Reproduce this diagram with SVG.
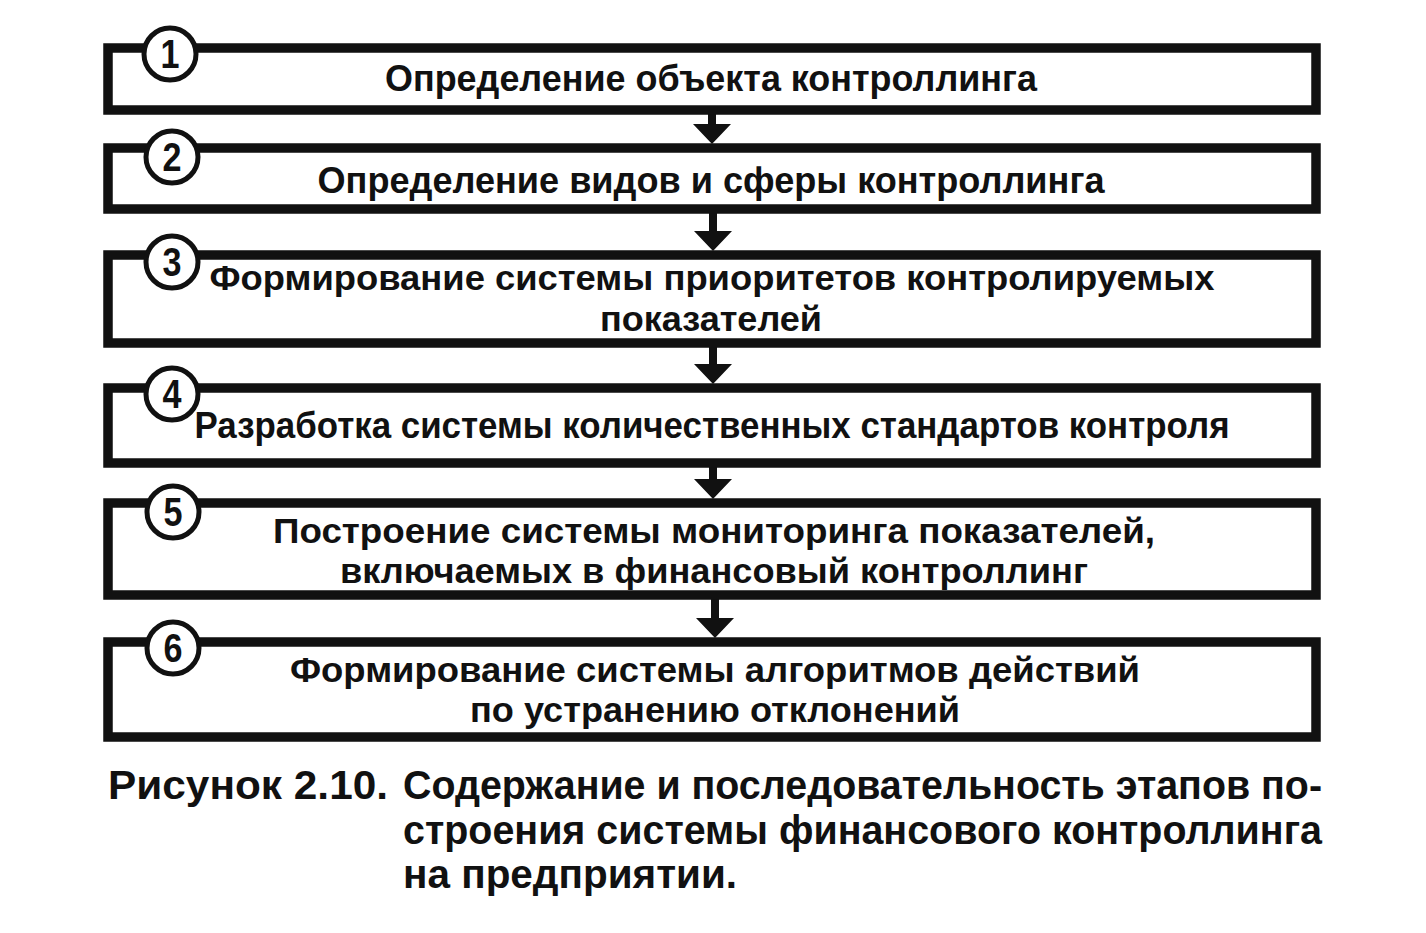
<svg xmlns="http://www.w3.org/2000/svg" width="1426" height="933" viewBox="0 0 1426 933">
<defs>
<style>
.box{fill:#fff;stroke:#111;stroke-width:9.5}
.num{fill:#fff;stroke:#111;stroke-width:5}
.nt{font-family:"Liberation Sans Narrow","Liberation Sans",Arial,sans-serif;font-weight:bold;font-size:40px;fill:#111;text-anchor:middle}
.t{font-family:"Liberation Sans Narrow","Liberation Sans",Arial,sans-serif;font-weight:bold;font-size:37px;fill:#111;text-anchor:middle}
.t2{font-family:"Liberation Sans Narrow","Liberation Sans",Arial,sans-serif;font-weight:bold;font-size:35px;fill:#111;text-anchor:middle}
.cap{font-family:"Liberation Sans Narrow","Liberation Sans",Arial,sans-serif;font-weight:bold;font-size:40px;fill:#111}
.arr{fill:#111}
</style>
</defs>
<rect width="1426" height="933" fill="#fff"/>
<g id="connectors">
<path class="arr" d="M708,110 H716 V124 H731 L712,144 L693,124 H708 Z"/>
<path class="arr" d="M709,209 H717 V231 H732 L713,251 L694,231 H709 Z"/>
<path class="arr" d="M709,343 H717 V364 H732 L713,384 L694,364 H709 Z"/>
<path class="arr" d="M709,463 H717 V479 H732 L713,499 L694,479 H709 Z"/>
<path class="arr" d="M711,595 H719 V618 H734 L715,638 L696,618 H711 Z"/>
</g>
<g id="node1">
<rect class="box" x="108" y="48" width="1208" height="62"/>
<circle class="num" cx="170" cy="54" r="26"/>
<text class="nt" x="170" y="68" textLength="19" lengthAdjust="spacingAndGlyphs">1</text>
<text class="t" x="711" y="91" textLength="652" lengthAdjust="spacingAndGlyphs">Определение объекта контроллинга</text>
</g>
<g id="node2">
<rect class="box" x="108" y="148" width="1208" height="61"/>
<circle class="num" cx="172" cy="157" r="26"/>
<text class="nt" x="172" y="171" textLength="19" lengthAdjust="spacingAndGlyphs">2</text>
<text class="t" x="711" y="193" textLength="787" lengthAdjust="spacingAndGlyphs">Определение видов и сферы контроллинга</text>
</g>
<g id="node3">
<rect class="box" x="108" y="255" width="1208" height="88"/>
<circle class="num" cx="172" cy="262" r="26"/>
<text class="nt" x="172" y="276" textLength="19" lengthAdjust="spacingAndGlyphs">3</text>
<text class="t2" x="712" y="290" textLength="1005" lengthAdjust="spacingAndGlyphs">Формирование системы приоритетов контролируемых</text>
<text class="t2" x="711" y="331" textLength="222" lengthAdjust="spacingAndGlyphs">показателей</text>
</g>
<g id="node4">
<rect class="box" x="108" y="388" width="1208" height="75"/>
<circle class="num" cx="172" cy="394" r="26"/>
<text class="nt" x="172" y="408" textLength="19" lengthAdjust="spacingAndGlyphs">4</text>
<text class="t" x="712" y="438" textLength="1035" lengthAdjust="spacingAndGlyphs">Разработка системы количественных стандартов контроля</text>
</g>
<g id="node5">
<rect class="box" x="108" y="503" width="1208" height="92"/>
<circle class="num" cx="173" cy="512" r="26"/>
<text class="nt" x="173" y="526" textLength="19" lengthAdjust="spacingAndGlyphs">5</text>
<text class="t2" x="714" y="543" textLength="882" lengthAdjust="spacingAndGlyphs">Построение системы мониторинга показателей,</text>
<text class="t2" x="714" y="583" textLength="748" lengthAdjust="spacingAndGlyphs">включаемых в финансовый контроллинг</text>
</g>
<g id="node6">
<rect class="box" x="108" y="642" width="1208" height="95"/>
<circle class="num" cx="173" cy="648" r="26"/>
<text class="nt" x="173" y="662" textLength="19" lengthAdjust="spacingAndGlyphs">6</text>
<text class="t2" x="715" y="682" textLength="850" lengthAdjust="spacingAndGlyphs">Формирование системы алгоритмов действий</text>
<text class="t2" x="715" y="722" textLength="490" lengthAdjust="spacingAndGlyphs">по устранению отклонений</text>
</g>
<g id="caption">
<text class="cap" x="108" y="799" textLength="280" lengthAdjust="spacingAndGlyphs">Рисунок 2.10.</text>
<text class="cap" x="403" y="799" textLength="919" lengthAdjust="spacingAndGlyphs">Содержание и последовательность этапов по-</text>
<text class="cap" x="403" y="844" textLength="919" lengthAdjust="spacingAndGlyphs">строения системы финансового контроллинга</text>
<text class="cap" x="403" y="888" textLength="334" lengthAdjust="spacingAndGlyphs">на предприятии.</text>
</g>
</svg>
